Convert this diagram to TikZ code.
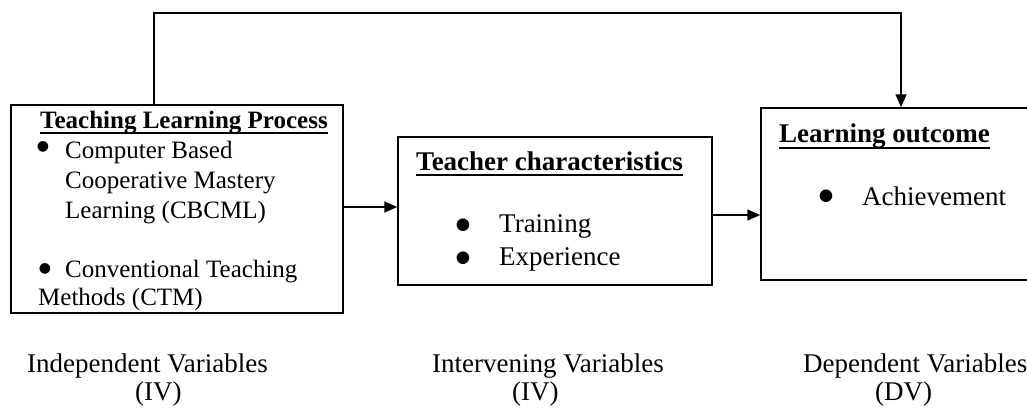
\documentclass[tikz,border=0pt]{standalone}
\usepackage{fontspec}
\setmainfont{Liberation Serif}
\newfontfamily\bulletfont{DejaVu Sans}
\usetikzlibrary{arrows.meta}
\tikzset{
  box/.style={draw, line width=1.5pt, rectangle, inner sep=0pt},
  arr/.style={line width=1.5pt, -{Triangle[length=13pt,width=11pt]}},
  txt/.style={inner sep=0pt, anchor=base west, font=\fontsize{27}{32}\selectfont},
  txtA/.style={inner sep=0pt, anchor=base west, font=\fontsize{25}{30}\selectfont},
  ttl/.style={inner sep=0pt, anchor=base west, font=\fontsize{27}{32}\selectfont\bfseries},
  ttlA/.style={inner sep=0pt, anchor=base west, font=\fontsize{25}{30}\selectfont\bfseries},
  bul/.style={inner sep=0pt, anchor=base, font=\bulletfont\fontsize{16.5}{17}\selectfont},
  bulA/.style={inner sep=0pt, anchor=base, font=\bulletfont\fontsize{14}{15}\selectfont},
  ul/.style={line width=2.5pt}
}
\begin{document}
\begin{tikzpicture}[x={(1pt,0)}, y={(0,-1pt)}]
\useasboundingbox (0,0) rectangle (1027,407);
\clip (0,0) rectangle (1027,407);
\fill[white] (0,0) rectangle (1027,407);
% boxes
\node[box, minimum width=332pt, minimum height=208pt] (b1) at (177,209) {};
\node[box, minimum width=314pt, minimum height=148pt] (b2) at (555,211) {};
\node[box, minimum width=300pt, minimum height=172pt] (b3) at (911,194) {};
% box 1 text
\node[ttlA] (t1) at (40,128) {Teaching Learning Process};
\draw[ul] ([yshift=-5pt]t1.base west) -- ([yshift=-5pt]t1.base east);
\node[bulA] (bu1) at (43,150.5) {●};
\node[txtA] (l1) at (65,158) {Computer Based};
\node[txtA] (l2) at (65,188) {Cooperative Mastery};
\node[txtA] (l3) at (65,218) {Learning (CBCML)};
\node[bulA] (bu2) at (45,272.5) {●};
\node[txtA] (l4) at (65,277) {Conventional Teaching};
\node[txtA] (l5) at (38,305) {Methods (CTM)};
% box 2 text
\node[ttl] (t2) at (416,170) {Teacher characteristics};
\draw[ul] ([yshift=-5pt]t2.base west) -- ([yshift=-5pt]t2.base east);
\node[bul] (bu3) at (463,229.3) {●};
\node[txt] (m1) at (499,232) {Training};
\node[bul] (bu4) at (463,262.3) {●};
\node[txt] (m2) at (499,265) {Experience};
% box 3 text
\node[ttl] (t3) at (779,142) {Learning outcome};
\draw[ul] ([yshift=-6pt]t3.base west) -- ([yshift=-6pt]t3.base east);
\node[bul] (bu5) at (826,200.3) {●};
\node[txt] (r1) at (862,205) {Achievement};
% connectors
\coordinate (c1) at (154,13);
\coordinate (c2) at (901,13);
\coordinate (a1) at (0,207);
\coordinate (a2) at (0,215);
\draw[arr] (b1.north -| c1) -- (c1) -- (c2) -- (b3.north -| c2);
\draw[arr] (b1.east |- a1) -- (b2.west |- a1);
\draw[arr] (b2.east |- a2) -- (b3.west |- a2);
% bottom labels
\node[txt] (v1) at (27,372) {Independent Variables};
\node[txt] (v1b) at (135,400) {(IV)};
\node[txt] (v2) at (432,372) {Intervening Variables};
\node[txt] (v2b) at (512,400) {(IV)};
\node[txt] (v3) at (803,372) {Dependent Variables};
\node[txt] (v3b) at (875,400) {(DV)};
\end{tikzpicture}
\end{document}
